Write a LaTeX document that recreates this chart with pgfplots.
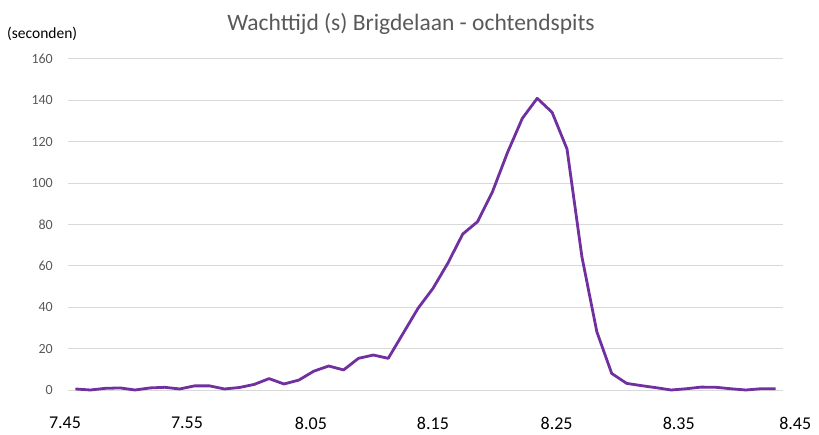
\documentclass[border=0pt]{standalone}
\usepackage{pgfplots}
\pgfplotsset{compat=1.18}
\usepackage{fontspec}
\setmainfont{Carlito}
\definecolor{linepurple}{HTML}{7030A0}
\definecolor{txtgray}{HTML}{595959}
\definecolor{gridgray}{HTML}{D9D9D9}
\tikzset{xlab/.style={anchor=center, text=black, font=\fontsize{18}{20}\selectfont, inner sep=0pt, yshift=-33pt}}
\begin{document}
\begin{tikzpicture}[x=1pt,y=1pt]
\useasboundingbox (0,0) rectangle (819,434);
\node[anchor=base, text=txtgray, font=\fontsize{23.5}{28}\selectfont, inner sep=0pt] at (411,403) {Wachttijd (s) Brigdelaan - ochtendspits};
\node[anchor=base west, text=black, font=\fontsize{15.5}{18}\selectfont, inner sep=0pt] at (7,395) {(seconden)};
\begin{axis}[
  at={(68pt,44pt)}, anchor=south west,
  scale only axis, width=715pt, height=331pt,
  xmin=-0.5, xmax=47.5, ymin=0, ymax=160,
  ytick={0,20,...,160}, xtick=\empty,
  ymajorgrids, grid style={gridgray, line width=1pt},
  axis line style={draw=none}, major tick length=0pt,
  yticklabel style={text=txtgray, font=\fontsize{14}{16}\selectfont, anchor=east, inner sep=0pt, xshift=-15pt},
  /pgf/number format/assume math mode=true,
  clip=false,
]
\addplot[linepurple, line width=2.8pt, line join=round, mark=none] coordinates {
(0,0.5) (1,0) (2,0.8) (3,1) (4,0) (5,1) (6,1.3) (7,0.5) (8,2) (9,2)
(10,0.5) (11,1.2) (12,2.7) (13,5.5) (14,2.9) (15,4.8) (16,9.1) (17,11.6) (18,9.7) (19,15.3)
(20,16.9) (21,15.3) (22,27.4) (23,39.5) (24,49.1) (25,61.3) (26,75.4) (27,81.4) (28,95.9) (29,114.7)
(30,131.3) (31,141) (32,134.2) (33,116.5) (34,64.4) (35,28.2) (36,8.0) (37,3.2) (38,2.1) (39,1.1)
(40,0) (41,0.6) (42,1.4) (43,1.3) (44,0.6) (45,0) (46,0.6) (47,0.6)
};
\node[xlab] at (axis cs:-0.7,0) {7.45};
\node[xlab] at (axis cs:7.49,0) {7.55};
\node[xlab] at (axis cs:15.81,0) {8.05};
\node[xlab] at (axis cs:24.0,0) {8.15};
\node[xlab] at (axis cs:32.3,0) {8.25};
\node[xlab] at (axis cs:40.5,0) {8.35};
\node[xlab, anchor=east, xshift=9pt] at (axis cs:48.8,0) {8.45};
\end{axis}
\end{tikzpicture}
\end{document}
